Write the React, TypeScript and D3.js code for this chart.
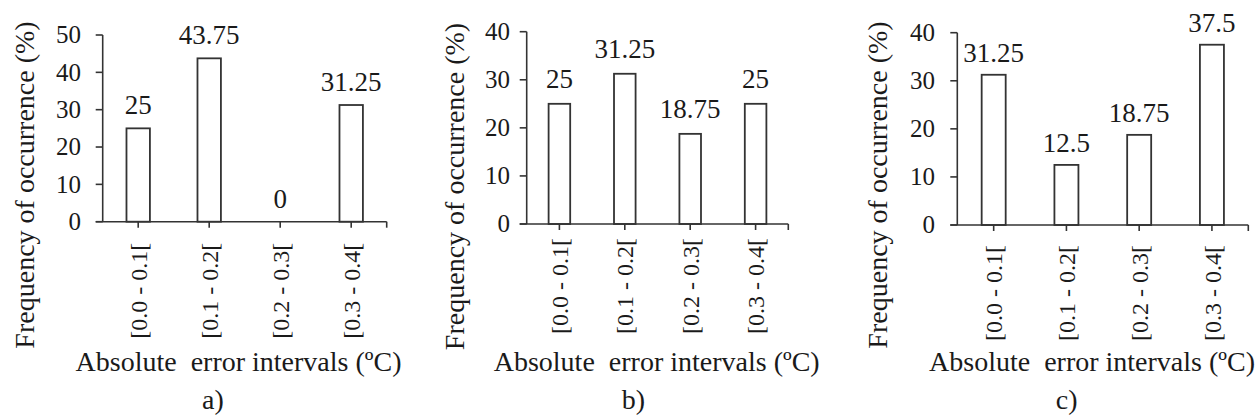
import React from "react";
import * as d3 from "d3";

const categories = ["[0.0 - 0.1[", "[0.1 - 0.2[", "[0.2 - 0.3[", "[0.3 - 0.4["];
const valuesA = [25, 43.75, 0, 31.25];
const valuesB = [25, 31.25, 18.75, 25];
const valuesC = [31.25, 12.5, 18.75, 37.5];
const yTicksA = [0, 10, 20, 30, 40, 50];
const yTicksB = [0, 10, 20, 30, 40];
const yTicksC = [0, 10, 20, 30, 40];
const panelLabels = ["a)", "b)", "c)"];
const yTitle = "Frequency of occurrence (%)";
const xTitle = "Absolute  error intervals (ºC)";

const layouts = [
  { x0: 102.7, x1: 386.7, yTop: 35, yBottom: 221.7, yMax: 50, tickLabelX: 81, yTitleX: 34, yTitleY: 185, xTitleX: 238.5, panelX: 213, labelGap: 14, catGap: 21 },
  { x0: 526.7, x1: 788.3, yTop: 31.7, yBottom: 224, yMax: 40, tickLabelX: 510, yTitleX: 464, yTitleY: 186.5, xTitleX: 656.7, panelX: 633.3, labelGap: 16, catGap: 14 },
  { x0: 957.3, x1: 1248.3, yTop: 32.7, yBottom: 225, yMax: 40, tickLabelX: 935, yTitleX: 887, yTitleY: 185, xTitleX: 1092, panelX: 1066.7, labelGap: 13, catGap: 20 },
];

const panels = [
  { values: valuesA, ticks: yTicksA, label: panelLabels[0], layout: layouts[0] },
  { values: valuesB, ticks: yTicksB, label: panelLabels[1], layout: layouts[1] },
  { values: valuesC, ticks: yTicksC, label: panelLabels[2], layout: layouts[2] },
];

const INK = "#1a1a1a";
const LINE = "#333";

function Panel({ values, ticks, label, layout }: any) {
  const L = layout;
  const x = d3.scaleBand<string>().domain(categories).range([L.x0, L.x1]).paddingInner(0).paddingOuter(0);
  const y = d3.scaleLinear().domain([0, L.yMax]).range([L.yBottom, L.yTop]);
  const bw = x.bandwidth() * 0.33;
  const tickLen = 7;
  return (
    <g>
      {categories.map((c, i) => {
        const cx = (x(c) as number) + x.bandwidth() / 2;
        const v = values[i];
        return (
          <g key={c}>
            {v > 0 && (
              <rect x={cx - bw / 2} y={y(v)} width={bw} height={y(0) - y(v)} fill="#fff" stroke={LINE} strokeWidth={1.8} />
            )}
            <text x={cx} y={y(v) - L.labelGap} textAnchor="middle" fontSize={27} fill={INK} fontFamily="Liberation Serif">
              {String(v)}
            </text>
          </g>
        );
      })}
      <line x1={L.x0} x2={L.x0} y1={L.yTop} y2={L.yBottom} stroke={LINE} strokeWidth={1.6} />
      {ticks.map((t: number) => (
        <g key={t}>
          <line x1={L.x0 - tickLen} x2={L.x0} y1={y(t)} y2={y(t)} stroke={LINE} strokeWidth={1.6} />
          <text x={L.tickLabelX} y={y(t)} dy="0.33em" textAnchor="end" fontSize={25} fill={INK} fontFamily="Liberation Serif">
            {String(t)}
          </text>
        </g>
      ))}
      <line x1={L.x0 - tickLen} x2={L.x1} y1={L.yBottom} y2={L.yBottom} stroke={LINE} strokeWidth={1.6} />
      {categories.map((c) => {
        const cx = (x(c) as number) + x.bandwidth() / 2;
        return (
          <g key={c}>
            <line x1={cx} x2={cx} y1={L.yBottom} y2={L.yBottom + 6} stroke={LINE} strokeWidth={1.6} />
            <text
              transform={`translate(${cx},${L.yBottom + L.catGap}) rotate(-90)`}
              dy="0.36em"
              textAnchor="end"
              fontSize={24}
              fill={INK}
              fontFamily="Liberation Serif"
            >
              {c}
            </text>
          </g>
        );
      })}
      <line x1={L.x1} x2={L.x1} y1={L.yBottom} y2={L.yBottom + 6} stroke={LINE} strokeWidth={1.6} />
      <text transform={`translate(${L.yTitleX},${L.yTitleY}) rotate(-90)`} textAnchor="middle" fontSize={28} fill={INK} fontFamily="Liberation Serif">
        {yTitle}
      </text>
      <text x={L.xTitleX} y={371} textAnchor="middle" fontSize={28} fill={INK} fontFamily="Liberation Serif" xmlSpace="preserve">
        {xTitle}
      </text>
      <text x={L.panelX} y={409} textAnchor="middle" fontSize={28} fill={INK} fontFamily="Liberation Serif">
        {label}
      </text>
    </g>
  );
}

export default function App() {
  return (
    <svg width={1260} height={420} style={{ position: "absolute", left: 0, top: 0 }}>
      <rect x={0} y={0} width={1260} height={420} fill="#fff" />
      {panels.map((p, i) => (
        <Panel key={i} {...p} />
      ))}
    </svg>
  );
}
